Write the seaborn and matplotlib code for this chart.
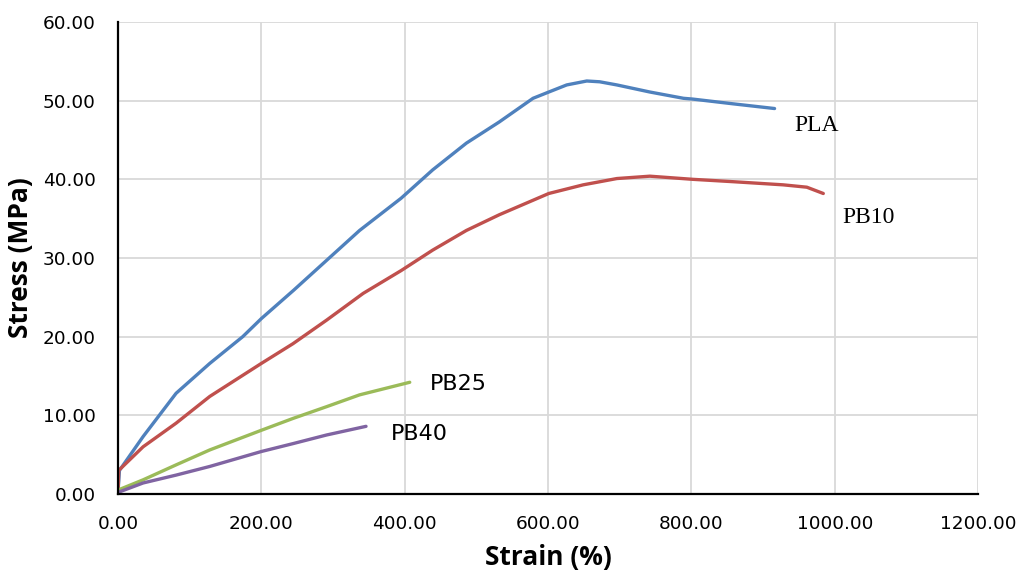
import numpy as np
import pandas as pd
import matplotlib
matplotlib.use("Agg")
import matplotlib.pyplot as plt
import seaborn as sns

# stress-strain curves
pla_strain = [0, 2, 35, 81, 128, 174, 200, 245, 291, 337, 395, 439, 486, 532, 579,
              601, 626, 654, 672, 696, 742, 789, 802, 858, 916]
pla_stress = [0.3, 3.0, 7.3, 12.8, 16.6, 20.0, 22.3, 25.9, 29.7, 33.5, 37.6, 41.2, 44.6, 47.3, 50.3,
              51.1, 52.0, 52.5, 52.4, 52.0, 51.1, 50.3, 50.2, 49.6, 49.0]

pb10_strain = [0, 1, 35, 81, 128, 200, 244, 291, 342, 395, 439, 486, 532, 601, 649,
               696, 742, 802, 858, 928, 961, 984]
pb10_stress = [0.0, 3.0, 6.0, 9.0, 12.4, 16.6, 19.1, 22.1, 25.5, 28.4, 31.0, 33.5, 35.5, 38.2, 39.3,
               40.1, 40.4, 40.0, 39.7, 39.3, 39.0, 38.2]

pb25_strain = [0, 35, 81, 128, 200, 244, 291, 337, 407]
pb25_stress = [0.5, 1.8, 3.7, 5.6, 8.1, 9.6, 11.1, 12.6, 14.2]

pb40_strain = [0, 35, 81, 128, 200, 244, 291, 346]
pb40_stress = [0.2, 1.4, 2.4, 3.5, 5.4, 6.4, 7.5, 8.6]

x_ticks = [0, 200, 400, 600, 800, 1000, 1200]
y_ticks = [0, 10, 20, 30, 40, 50, 60]

sns.set_style("whitegrid")
plt.rcParams['font.family'] = ['DejaVu Sans']
plt.rcParams['text.color'] = 'black'
plt.rcParams['axes.labelcolor'] = 'black'

fig = plt.figure(figsize=(10.21, 5.73), dpi=100)
ax = fig.add_axes([0.1156, 0.1379, 0.8424, 0.8237])

series = [
    (pla_strain, pla_stress, "#4f81bd"),
    (pb10_strain, pb10_stress, "#c0504d"),
    (pb25_strain, pb25_stress, "#9bbb59"),
    (pb40_strain, pb40_stress, "#8064a2"),
]
for xs, ys, col in series:
    df = pd.DataFrame({"strain": xs, "stress": ys})
    sns.lineplot(data=df, x="strain", y="stress", ax=ax, color=col,
                 linewidth=2.4, sort=False, estimator=None)

ax.set_xlim(0, 1200)
ax.set_ylim(0, 60)
ax.set_xticks(x_ticks)
ax.set_yticks(y_ticks)
ax.set_xticklabels([f"{v:.2f}" for v in x_ticks])
ax.set_yticklabels([f"{v:.2f}" for v in y_ticks])
ax.tick_params(axis="both", length=0, labelsize=13.3, colors="black")
ax.tick_params(axis="x", pad=15)
ax.tick_params(axis="y", pad=16)

ax.grid(True, color="#d9d9d9", linewidth=1.3)
for side in ["top", "right"]:
    ax.spines[side].set_visible(False)
for side in ["left", "bottom"]:
    ax.spines[side].set_color("black")
    ax.spines[side].set_linewidth(1.6)

ax.set_xlabel("Strain (%)", fontsize=19, fontweight="bold", family="Open Sans", labelpad=8)
ax.set_ylabel("Stress (MPa)", fontsize=19, fontweight="bold", family="Open Sans", labelpad=6)

ax.text(944, 46.8, "PLA", fontsize=17, family="Liberation Serif", va="center", ha="left")
ax.text(1011, 35.1, "PB10", fontsize=17, family="Liberation Serif", va="center", ha="left")
ax.text(435, 14.0, "PB25", fontsize=16, family="DejaVu Sans", va="center", ha="left")
ax.text(381, 7.6, "PB40", fontsize=16, family="DejaVu Sans", va="center", ha="left")

fig.savefig("out.png", dpi=100)
